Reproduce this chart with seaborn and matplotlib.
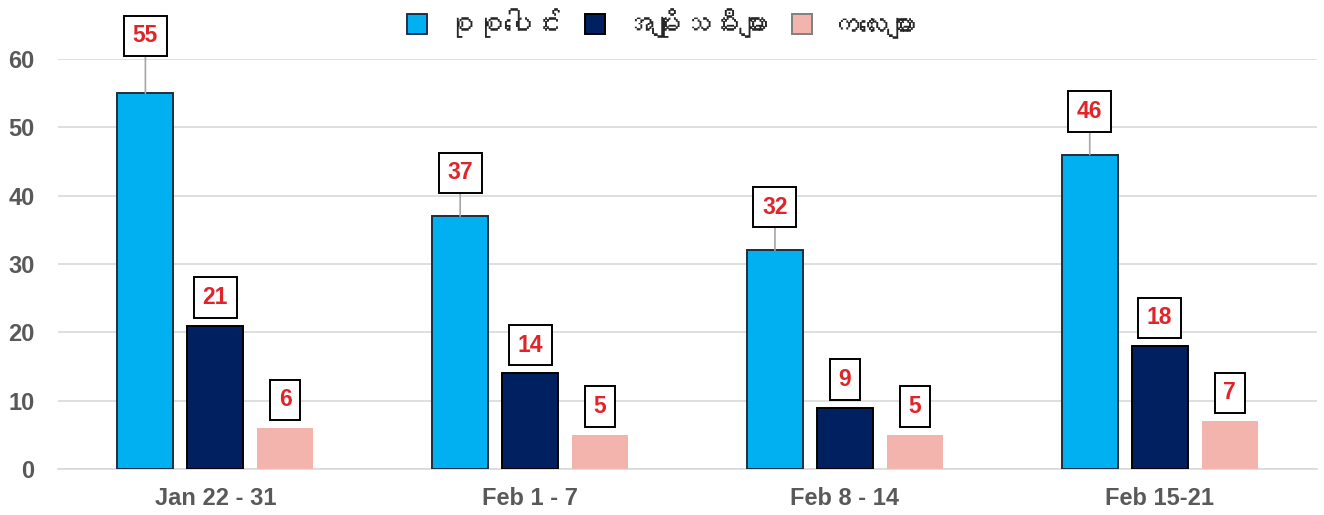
import pandas as pd
import seaborn as sns
from matplotlib import pyplot as plt
from matplotlib import font_manager
from matplotlib.ft2font import FT2Font
from matplotlib.patches import Patch

# datos del grafico
periodos = ["Jan 22 - 31", "Feb 1 - 7", "Feb 8 - 14", "Feb 15-21"]
series = ["စုစုပေါင်း", "အမျိုးသမီးများ", "ကလေးများ"]
total = [55, 37, 32, 46]
mujeres = [21, 14, 9, 18]
ninos = [6, 5, 5, 7]

colores = ["#00B0F0", "#002060", "#F4B4AE"]
bordes = ["#1F2D3D", "#000000", "none"]


def fuente_myanmar():
    # buscar una fuente instalada que tenga glifos birmanos
    for f in font_manager.fontManager.ttflist:
        try:
            if FT2Font(f.fname).get_char_index(0x1005):
                return f.name
        except Exception:
            pass
    return None


df = pd.DataFrame({
    "periodo": periodos * 3,
    "serie": [series[0]] * 4 + [series[1]] * 4 + [series[2]] * 4,
    "valor": total + mujeres + ninos,
})

sns.set_style("white")
plt.rcParams["font.family"] = ["Liberation Sans", "DejaVu Sans"]

fig = plt.figure(figsize=(13.24, 5.15), dpi=100)
ax = fig.add_axes([0.0438, 0.0893, 0.951, 0.7961])

sns.barplot(data=df, x="periodo", y="valor", hue="serie", order=periodos,
            hue_order=series, palette=colores, saturation=1, width=0.667,
            gap=0.2, legend=False, ax=ax, zorder=3)

for cont, borde in zip(ax.containers, bordes):
    for barra in cont:
        if borde == "none":
            barra.set_linewidth(0)
        else:
            barra.set_edgecolor(borde)
            barra.set_linewidth(1.4)

# etiquetas en cajas (separacion en pixeles entre barra y caja)
tam = 16.5
pad_px = 0.38 * tam * 100 / 72
separacion = [23, 8, 8]
for i, cont in enumerate(ax.containers):
    for j, barra in enumerate(cont):
        x = barra.get_x() + barra.get_width() / 2
        y = barra.get_height()
        sep = separacion[i]
        if i == 0 and y == max(total):
            sep = 37
        ax.annotate(str(int(y)), xy=(x, y), xytext=(0, sep + pad_px),
                    textcoords="offset pixels", ha="center", va="bottom",
                    fontsize=tam, fontweight="bold", color="#E0242A",
                    annotation_clip=False, zorder=5,
                    bbox=dict(boxstyle="square,pad=0.38", fc="white",
                              ec="black", lw=1.4),
                    arrowprops=dict(arrowstyle="-", color="#A6A6A6", lw=1.2,
                                    shrinkA=0, shrinkB=0) if i == 0 else None)

ax.set_ylim(0, 60)
ax.set_xlim(-0.5, 3.5)
ax.set_yticks(range(0, 61, 10))
ax.yaxis.grid(True, color="#D9D9D9", lw=1.2, zorder=0)
ax.set_axisbelow(True)
for lado in ["left", "right", "top"]:
    ax.spines[lado].set_visible(False)
ax.spines["bottom"].set_color("#D9D9D9")
ax.spines["bottom"].set_linewidth(1.2)
ax.tick_params(axis="both", length=0, labelcolor="#595959", labelsize=17)
ax.tick_params(axis="x", pad=13)
ax.tick_params(axis="y", pad=17)
for t in ax.get_xticklabels() + ax.get_yticklabels():
    t.set_fontweight("bold")
ax.set_xlabel("")
ax.set_ylabel("")

fam = fuente_myanmar()
familia = [fam, "DejaVu Sans"] if fam else ["DejaVu Sans"]
manijas = [Patch(facecolor=c, edgecolor=e, lw=1.4)
           for c, e in zip(colores, ["#1F3050", "#000000", "#7F7F7F"])]
fig.legend(handles=manijas, labels=series, loc="center", ncol=3,
           bbox_to_anchor=(0.5, 0.955), frameon=False, handlelength=0.7,
           handleheight=0.7, handletextpad=0.6, columnspacing=0.8,
           prop=font_manager.FontProperties(family=familia, size=21))

fig.savefig("out.png", dpi=100)
